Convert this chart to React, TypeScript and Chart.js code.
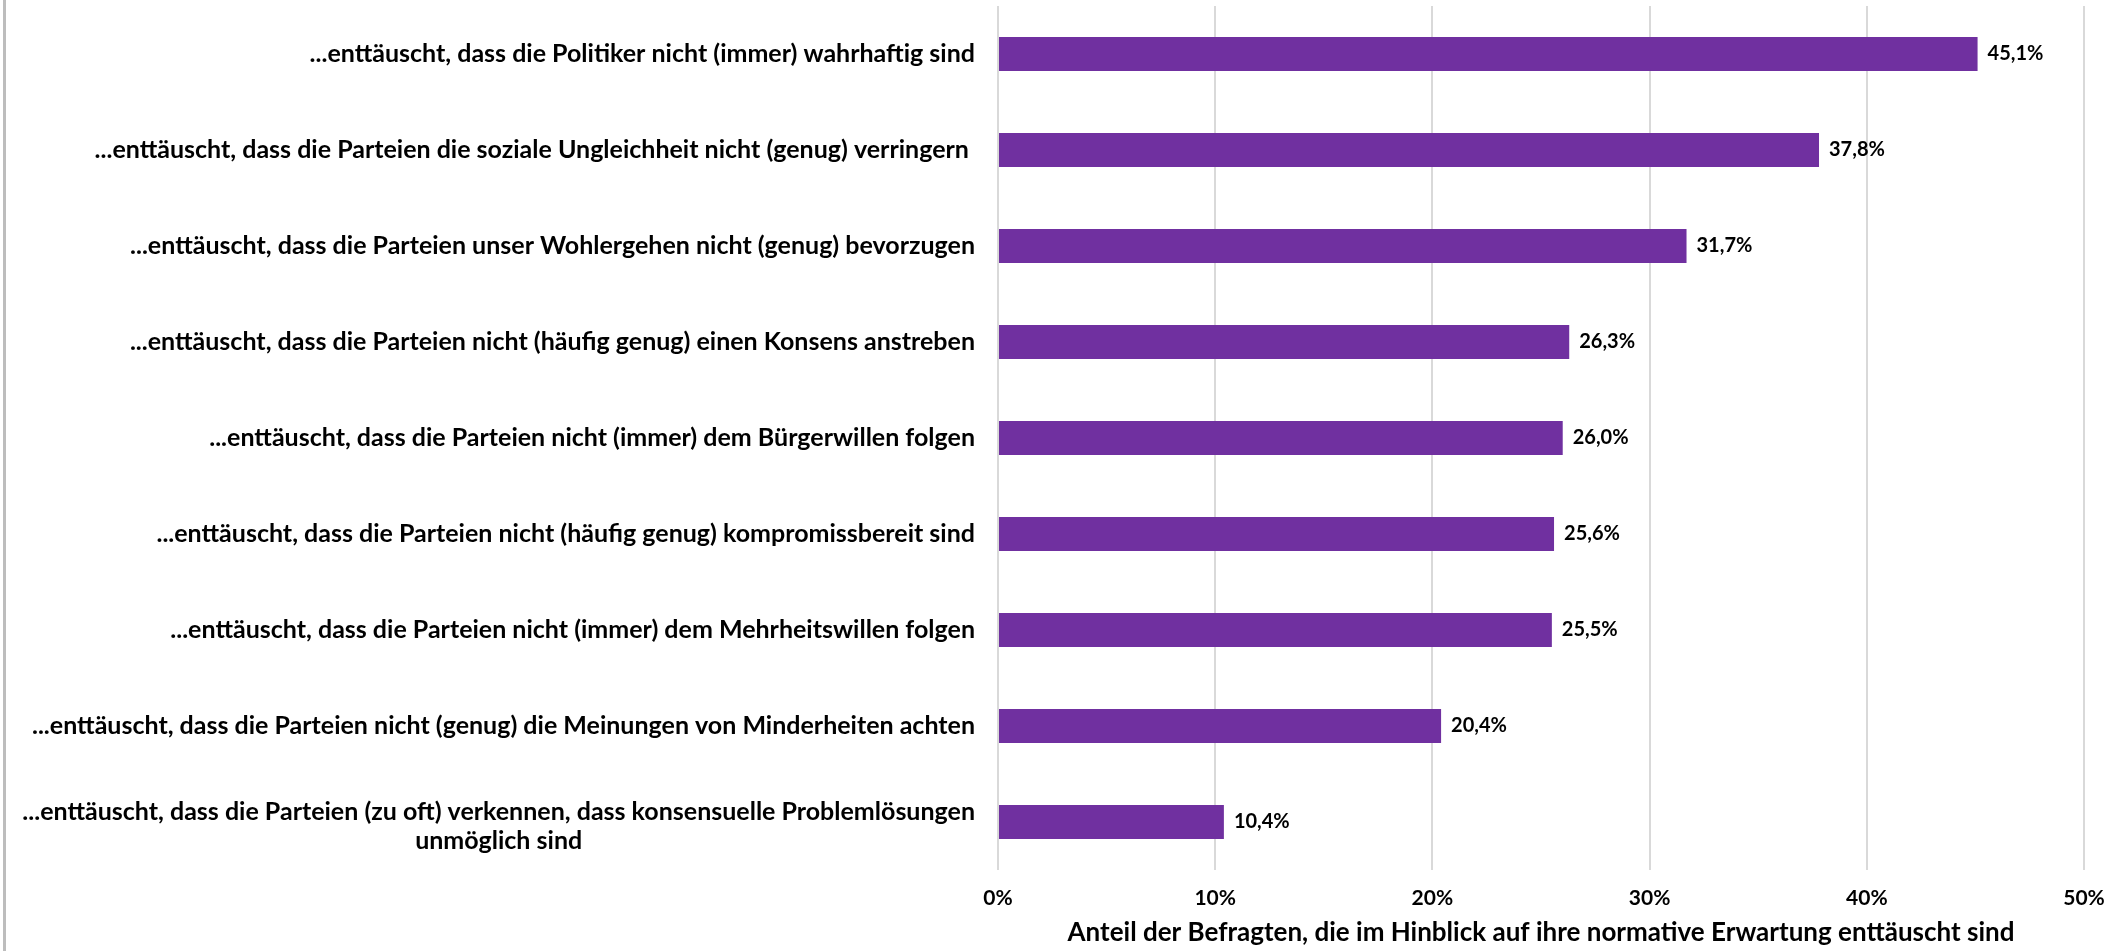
import React, { useEffect, useRef } from "react";
import { Chart, registerables } from "chart.js";

Chart.register(...registerables);

const categories: string[][] = [
  ["...enttäuscht, dass die Politiker nicht (immer) wahrhaftig sind"],
  ["...enttäuscht, dass die Parteien die soziale Ungleichheit nicht (genug) verringern "],
  ["...enttäuscht, dass die Parteien unser Wohlergehen nicht (genug) bevorzugen"],
  ["...enttäuscht, dass die Parteien nicht (häufig genug) einen Konsens anstreben"],
  ["...enttäuscht, dass die Parteien nicht (immer) dem Bürgerwillen folgen"],
  ["...enttäuscht, dass die Parteien nicht (häufig genug) kompromissbereit sind"],
  ["...enttäuscht, dass die Parteien nicht (immer) dem Mehrheitswillen folgen"],
  ["...enttäuscht, dass die Parteien nicht (genug) die Meinungen von Minderheiten achten"],
  ["...enttäuscht, dass die Parteien (zu oft) verkennen, dass konsensuelle Problemlösungen", "unmöglich sind"],
];

const values: number[] = [45.1, 37.8, 31.7, 26.3, 26.0, 25.6, 25.5, 20.4, 10.4];

const xTickLabels: string[] = ["0%", "10%", "20%", "30%", "40%", "50%"];

const axisTitle = "Anteil der Befragten, die im Hinblick auf ihre normative Erwartung enttäuscht sind";

const FONT = "Lato";

const fmt = (v: number) => v.toFixed(1).replace(".", ",") + "%";

const drawPlugin = {
  id: "customLabels",
  afterDraw(chart: any) {
    const ctx = chart.ctx as CanvasRenderingContext2D;
    const yScale = chart.scales.y;
    ctx.save();
    // category labels
    ctx.font = `bold 25px ${FONT}`;
    ctx.fillStyle = "#000000";
    ctx.textBaseline = "middle";
    ctx.textAlign = "center";
    const right = yScale.right - 23;
    const lh = 29;
    categories.forEach((lines, i) => {
      const cy = yScale.getPixelForTick(i);
      const w = Math.max(...lines.map((l) => ctx.measureText(l).width));
      const cx = right - w / 2;
      lines.forEach((l, j) => {
        ctx.fillText(l, cx, cy + (j - (lines.length - 1) / 2) * lh + (lines.length > 1 ? 4 : 0));
      });
    });
    // data labels
    const meta = chart.getDatasetMeta(0);
    ctx.font = `bold 20px ${FONT}`;
    ctx.textAlign = "left";
    meta.data.forEach((bar: any, i: number) => {
      ctx.fillText(fmt(values[i]), bar.x + 10, bar.y);
    });
    // left border
    ctx.fillStyle = "#bdbdbd";
    ctx.fillRect(3, 0, 3, chart.height);
    ctx.restore();
  },
};

export default function App() {
  const ref = useRef<HTMLCanvasElement | null>(null);

  useEffect(() => {
    document.body.style.margin = "0";
    const canvas = ref.current;
    if (!canvas) return;
    const chart = new Chart(canvas, {
      type: "bar",
      data: {
        labels: categories.map((c) => c.join(" ")),
        datasets: [
          {
            data: values,
            backgroundColor: "#7030A0",
            barPercentage: 0.354,
            categoryPercentage: 1,
          },
        ],
      },
      options: {
        indexAxis: "y",
        animation: false,
        responsive: false,
        devicePixelRatio: 1,
        layout: { padding: { top: 6, right: 27, left: 0, bottom: 0 } },
        plugins: {
          legend: { display: false },
          tooltip: { enabled: false },
        },
        scales: {
          x: {
            min: 0,
            max: 50,
            ticks: {
              stepSize: 10,
              color: "#000000",
              padding: 16,
              font: { family: FONT, size: 21, weight: "bold" },
              callback: (_v: any, i: number) => xTickLabels[i],
            },
            grid: { color: "#d9d9d9", lineWidth: 2, drawTicks: false },
            border: { display: false },
            title: {
              display: true,
              text: axisTitle,
              color: "#000000",
              font: { family: FONT, size: 26, weight: "bold" },
              padding: { top: 2, bottom: 3 },
            },
            afterFit: (s: any) => {
              s.height = 81;
              s.paddingRight = 0;
              s.paddingLeft = 0;
            },
          },
          y: {
            ticks: { display: false },
            grid: { display: false },
            border: { display: false },
            afterFit: (s: any) => {
              s.width = 998;
            },
          },
        },
      },
      plugins: [drawPlugin],
    } as any);
    return () => chart.destroy();
  }, []);

  return (
    <div style={{ width: 2111, height: 951, background: "#ffffff" }}>
      <canvas ref={ref} width={2111} height={951} style={{ display: "block" }} />
    </div>
  );
}
